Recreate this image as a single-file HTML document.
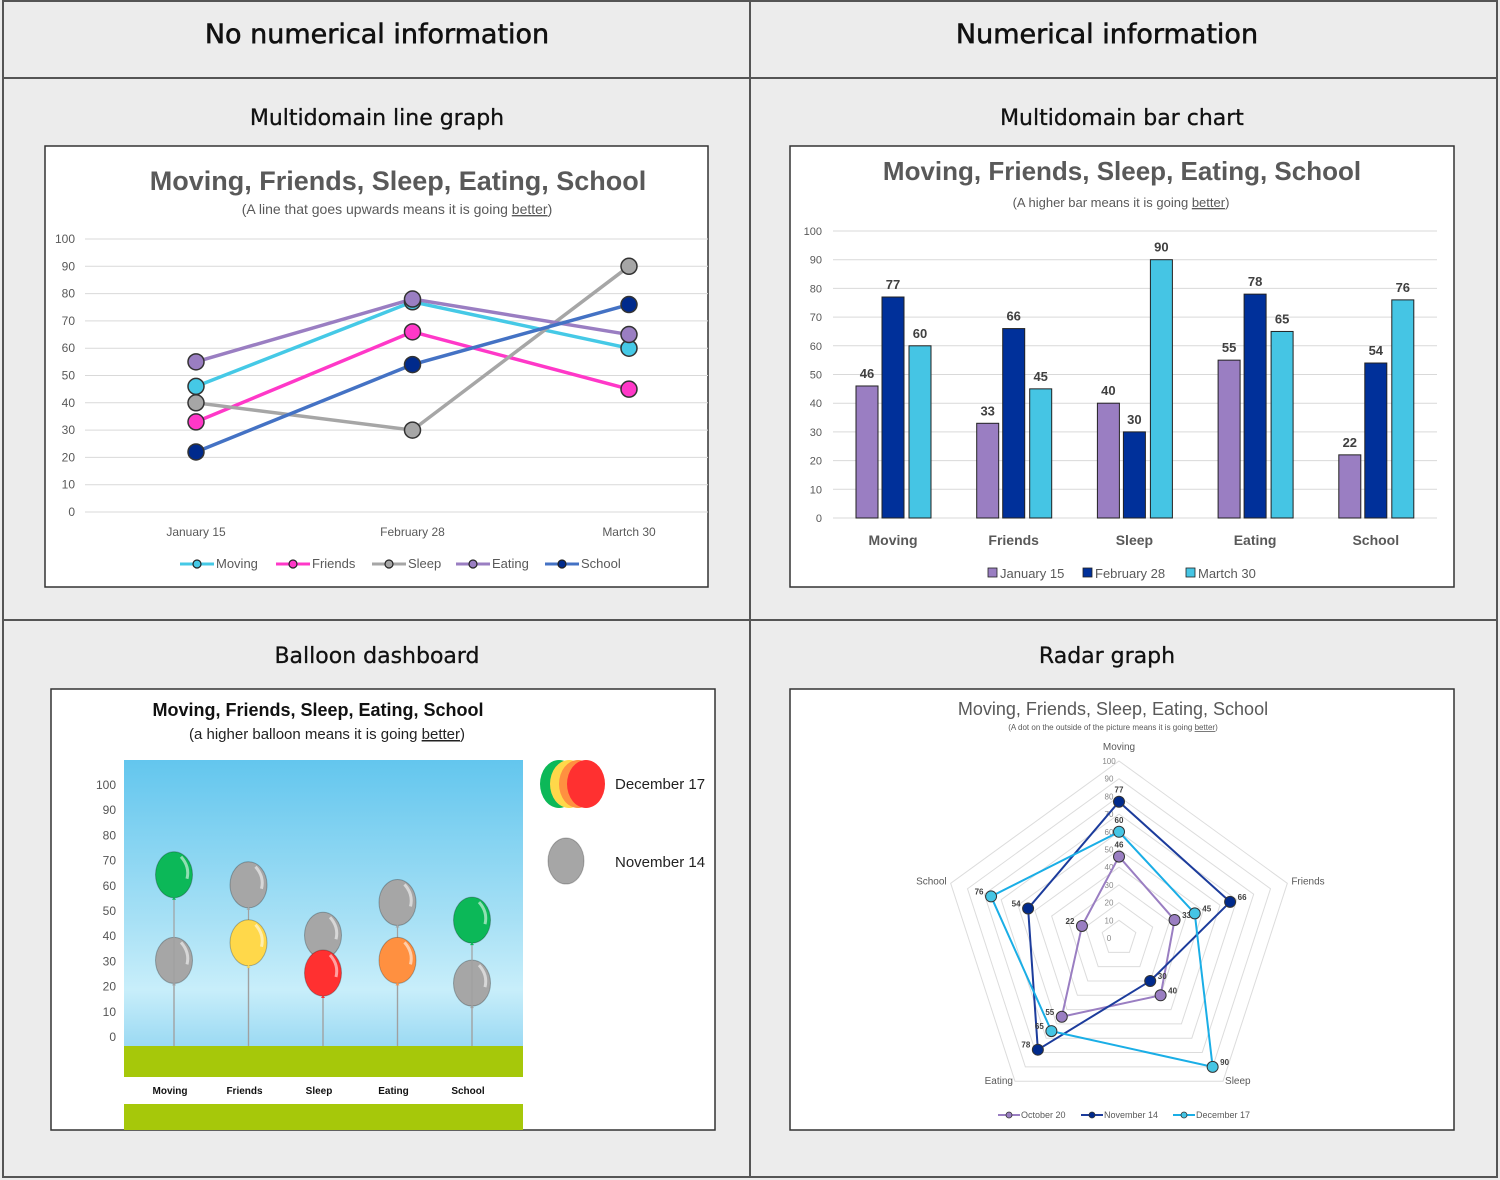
<!DOCTYPE html>
<html><head><meta charset="utf-8"><style>
html,body{margin:0;padding:0;background:#ececec;}
svg{display:block;font-family:"Liberation Sans",sans-serif;}
</style></head><body>
<svg id="s" width="1500" height="1180" viewBox="0 0 1500 1180" xmlns="http://www.w3.org/2000/svg">
<defs>
<linearGradient id="sky" x1="0" y1="0" x2="0" y2="1"><stop offset="0" stop-color="#63c6ee"/><stop offset="0.55" stop-color="#a6e0f5"/><stop offset="0.8" stop-color="#c8eefa"/><stop offset="1" stop-color="#9ad9f3"/></linearGradient>
</defs>
<rect x="0" y="0" width="1500" height="1180" fill="#ececec"/>
<g stroke="#555" stroke-width="2" fill="none">
<rect x="3" y="1" width="1494" height="1176"/>
<line x1="750" y1="1" x2="750" y2="1177"/>
<line x1="3" y1="78" x2="1497" y2="78"/>
<line x1="3" y1="620" x2="1497" y2="620"/>
</g>
<g font-family="DejaVu Sans, sans-serif" fill="#111" stroke="#111" stroke-width="0.6">
<text x="377" y="43" font-size="27" text-anchor="middle">No numerical information</text>
<text x="1107" y="43" font-size="27" text-anchor="middle">Numerical information</text>
</g>
<g font-family="DejaVu Sans, sans-serif" fill="#111" stroke="#111" stroke-width="0.3">
<text x="377" y="125" font-size="22" text-anchor="middle">Multidomain line graph</text>
<text x="1122" y="125" font-size="22" text-anchor="middle">Multidomain bar chart</text>
<text x="377" y="663" font-size="22" text-anchor="middle">Balloon dashboard</text>
<text x="1107" y="663" font-size="22" text-anchor="middle">Radar graph</text>
</g>

<g>
<rect x="45" y="146" width="663" height="441" fill="#fff" stroke="#333" stroke-width="1.5"/>
<text x="398" y="190" font-size="27" font-weight="bold" text-anchor="middle" fill="#595959">Moving, Friends, Sleep, Eating, School</text>
<text x="397" y="214" font-size="14" text-anchor="middle" fill="#595959">(A line that goes upwards means it is going <tspan text-decoration="underline">better</tspan>)</text>
<g id="lgrid"></g><g id="lmarks"></g><g id="llegend"></g>
</g>

<g>
<rect x="790" y="146" width="664" height="441" fill="#fff" stroke="#333" stroke-width="1.5"/>
<text x="1122" y="180" font-size="26" font-weight="bold" text-anchor="middle" fill="#595959">Moving, Friends, Sleep, Eating, School</text>
<text x="1121" y="207" font-size="13" text-anchor="middle" fill="#595959">(A higher bar means it is going <tspan text-decoration="underline">better</tspan>)</text>
<g id="bgrid"></g><g id="bmarks"></g><g id="blegend"></g>
</g>

<g>
<rect x="51" y="689" width="664" height="441" fill="#fff" stroke="#333" stroke-width="1.5"/>
<text x="318" y="716" font-size="18" font-weight="bold" text-anchor="middle" fill="#111">Moving, Friends, Sleep, Eating, School</text>
<text x="327" y="739" font-size="15" text-anchor="middle" fill="#222">(a higher balloon means it is going <tspan text-decoration="underline">better</tspan>)</text>
<rect x="124" y="760" width="399" height="287" fill="url(#sky)"/>
<rect x="124" y="1046" width="399" height="31" fill="#a6c80a"/>
<rect x="124" y="1104" width="399" height="26" fill="#a6c80a"/>
<g id="bygrid"></g><g id="balloons"></g>
<g id="blg"></g>
<text x="615" y="789" font-size="15" fill="#222">December 17</text>
<text x="615" y="867" font-size="15" fill="#222">November 14</text>
</g>

<g>
<rect x="790" y="689" width="664" height="441" fill="#fff" stroke="#333" stroke-width="1.5"/>
<text x="1113" y="715" font-size="18" text-anchor="middle" fill="#595959">Moving, Friends, Sleep, Eating, School</text>
<text x="1113" y="730" font-size="8" text-anchor="middle" fill="#595959">(A dot on the outside of the picture means it is going <tspan text-decoration="underline">better</tspan>)</text>
<g id="rgrid"></g><g id="rmarks"></g><g id="rlegend"></g>
</g>
</svg>
<script>
const domains = ["Moving","Friends","Sleep","Eating","School"];
const lineDates = ["January 15","February 28","Martch 30"];
const lineMoving = [46,77,60];
const lineFriends = [33,66,45];
const lineSleep = [40,30,90];
const lineEating = [55,78,65];
const lineSchool = [22,54,76];
const yTicks = [0,10,20,30,40,50,60,70,80,90,100];
const barSeriesNames = ["January 15","February 28","Martch 30"];
const barJan = [46,33,40,55,22];
const barFeb = [77,66,30,78,54];
const barMar = [60,45,90,65,76];
const balloonDec = [64,37,25,30,46];
const balloonNov = [30,60,40,53,21];
const radarNames = ["October 20","November 14","December 17"];
const radarOct = [46,33,40,55,22];
const radarNov = [77,66,30,78,54];
const radarDec = [60,45,90,65,76];

const NS="http://www.w3.org/2000/svg";
function mk(parent,tag,attrs,txt){const e=document.createElementNS(NS,tag);for(const k in attrs)e.setAttribute(k,attrs[k]);if(txt!==undefined)e.textContent=txt;document.getElementById(parent).appendChild(e);return e;}

const ly=v=>512-v*2.73;
const lx=i=>196+i*216.5;
yTicks.forEach(t=>{
  const g=mk('lgrid','line',{x1:85,x2:708,y1:ly(t),y2:ly(t),stroke:'#d9d9d9','stroke-width':1});
  
  
  const l=mk('lgrid','text',{x:75,y:ly(t)+4,'font-size':12,'text-anchor':'end',fill:'#595959'},t);
  
  
});
lineDates.forEach((d,i)=>{
  const l=mk('lgrid','text',{x:lx(i),y:536,'font-size':12,'text-anchor':'middle',fill:'#595959'},d);
  
  
});
const lineSeries=[["Moving",lineMoving,"#45c9e6","#45c9e6"],["Friends",lineFriends,"#ff38c8","#ff38c8"],["Sleep",lineSleep,"#a6a6a6","#a6a6a6"],["Eating",lineEating,"#9a7ec2","#9a7ec2"],["School",lineSchool,"#4472c4","#002a8c"]];
lineSeries.forEach(([n,vals,c,mc])=>{
  const p=mk('lmarks','polyline',{points:vals.map((v,i)=>lx(i)+','+ly(v)).join(' '),fill:'none',stroke:c,'stroke-width':3.5});
  
  
});
lineSeries.forEach(([n,vals,c,mc])=>{
  vals.forEach((v,i)=>{
    const m=mk('lmarks','circle',{cx:lx(i),cy:ly(v),r:8,fill:mc,stroke:'#333','stroke-width':1.5});
    
    
  });
});
const lgx=[180,276,372,456,545];
lineSeries.forEach(([n,vals,c,mc],i)=>{
  const x=lgx[i];
  const l=mk('llegend','line',{x1:x,x2:x+34,y1:564,y2:564,stroke:c,'stroke-width':3});
  
  
  const m=mk('llegend','circle',{cx:x+17,cy:564,r:4,fill:mc,stroke:'#222','stroke-width':1.2});
  
  
  const t=mk('llegend','text',{x:x+36,y:568,'font-size':13,fill:'#595959'},n);
  
  
});

const by=v=>518-v*2.87;
const bx=i=>893+i*120.7;
yTicks.forEach(t=>{
  const g=mk('bgrid','line',{x1:833,x2:1437,y1:by(t),y2:by(t),stroke:'#d9d9d9','stroke-width':1});
  
  
  const l=mk('bgrid','text',{x:822,y:by(t)+4,'font-size':11,'text-anchor':'end',fill:'#595959'},t);
  
  
});
domains.forEach((d,i)=>{
  const l=mk('bgrid','text',{x:bx(i),y:545,'font-size':14,'font-weight':'bold','text-anchor':'middle',fill:'#595959'},d);
  
  
});
const barSeries=[[barJan,"#9a7ec2",-26],[barFeb,"#00309a",0],[barMar,"#45c5e4",27]];
barSeries.forEach(([vals,c,off],si)=>{
  vals.forEach((v,i)=>{
    const x=bx(i)+off-11;
    const r=mk('bmarks','rect',{x:x,y:by(v),width:22,height:by(0)-by(v),fill:c,stroke:'#222','stroke-width':1});
    
    
    const t=mk('bmarks','text',{x:x+11,y:by(v)-8,'font-size':13,'font-weight':'bold','text-anchor':'middle',fill:'#404040'},v);
    
    
  });
});
const blgx=[988,1083,1186];
barSeries.forEach(([vals,c],i)=>{
  const r=mk('blegend','rect',{x:blgx[i],y:568,width:9,height:9,fill:c,stroke:'#222','stroke-width':0.8});
  
  
  const t=mk('blegend','text',{x:blgx[i]+12,y:578,'font-size':13,fill:'#595959'},barSeriesNames[i]);
  
  
});

const yy=v=>1036-v*2.52;
const bbx=i=>174+i*74.5;
yTicks.forEach(t=>{
  const l=mk('bygrid','text',{x:116,y:yy(t)+5,'font-size':12,'text-anchor':'end',fill:'#555'},t);
  
  
});
domains.forEach((d,i)=>{
  const l=mk('bygrid','text',{x:bbx(i)-4,y:1094,'font-size':10,'font-weight':'bold','text-anchor':'middle',fill:'#111'},d);
  
  
});
function balloon(parent,cx,cy,fill,name){
  const s=mk(parent,'line',{x1:cx,x2:cx,y1:cy+23,y2:1046,stroke:'#a0a0a0','stroke-width':1.2});
  
  
  const e=mk(parent,'ellipse',{cx:cx,cy:cy,rx:18.5,ry:23,fill:fill,stroke:'rgba(0,0,0,0.25)','stroke-width':1});
  
  
  const h=mk(parent,'path',{d:`M${cx+7} ${cy-18} Q${cx+16} ${cy-8} ${cx+13} ${cy+4}`,fill:'none',stroke:'rgba(255,255,255,0.55)','stroke-width':3});
  
  
  const k=mk(parent,'path',{d:`M${cx-2} ${cy+25} L${cx+2} ${cy+25} L${cx} ${cy+22}Z`,fill:fill});
  
  
}
const decColors=["#0cb858","#ffd84a","#ff3030","#ff9040","#0cb858"];
domains.forEach((d,i)=>{
  balloon('balloons',bbx(i),yy(balloonNov[i]),'#a6a6a6','balloon-nov-'+d.toLowerCase());
});
domains.forEach((d,i)=>{
  balloon('balloons',bbx(i),yy(balloonDec[i]),decColors[i],'balloon-dec-'+d.toLowerCase());
});
[["#0cb858",559],["#ffd84a",569],["#ff9040",578],["#ff3030",586]].forEach(([c,x])=>{
  const e=mk('blg','ellipse',{cx:x,cy:784,rx:19,ry:24,fill:c});
  
  
});
{const e=mk('blg','ellipse',{cx:566,cy:861,rx:18,ry:23,fill:'#a6a6a6',stroke:'rgba(0,0,0,0.25)'});

}

const RC=[1119,938], RR=1.77;
const rp=(i,v)=>{const a=i*2*Math.PI/5;return [RC[0]+v*RR*Math.sin(a),RC[1]-v*RR*Math.cos(a)];};
yTicks.slice(1).forEach(t=>{
  const p=mk('rgrid','polygon',{points:domains.map((d,i)=>rp(i,t).join(',')).join(' '),fill:'none',stroke:'#dcdcdc','stroke-width':1});
  
  
});
yTicks.forEach(t=>{
  const l=mk('rgrid','text',{x:RC[0]-10,y:RC[1]-t*RR+3,'font-size':8,'text-anchor':'middle',fill:'#888'},t);
  
  
});
const rlab=[[0,-14,'middle'],[4,-2,'start'],[2,0,'start'],[-2,0,'end'],[-4,-2,'end']];
domains.forEach((d,i)=>{
  const [x,y]=rp(i,100);
  const l=mk('rgrid','text',{x:x+rlab[i][0],y:y+rlab[i][1]+3,'font-size':10,'text-anchor':rlab[i][2],fill:'#595959'},d);
  
  
});
const radarSeries=[[radarOct,"#9a7ec2","#9a7ec2"],[radarNov,"#1c3c9c","#002a8c"],[radarDec,"#1aaee6","#45c5e4"]];
radarSeries.forEach(([vals,c,mc],si)=>{
  const pts=vals.map((v,i)=>rp(i,v));
  const p=mk('rmarks','polygon',{points:pts.map(q=>q.join(',')).join(' '),fill:'none',stroke:c,'stroke-width':2});
  
  
  pts.forEach((q,i)=>{
    const m=mk('rmarks','circle',{cx:q[0],cy:q[1],r:5.5,fill:mc,stroke:'#333','stroke-width':1});
    
    
    const t=mk('rmarks','text',{x:q[0]+(i==0?0:(i<3?12:-12)),y:q[1]+(i==0?-9:-2),'font-size':8,'font-weight':'bold','text-anchor':'middle',fill:'#404040'},vals[i]);
    
    
  });
});
const rlgx=[998,1081,1173];
radarSeries.forEach(([vals,c,mc],i)=>{
  const l=mk('rlegend','line',{x1:rlgx[i],x2:rlgx[i]+22,y1:1115,y2:1115,stroke:c,'stroke-width':2});
  
  
  const m=mk('rlegend','circle',{cx:rlgx[i]+11,cy:1115,r:3,fill:mc,stroke:'#333','stroke-width':0.8});
  
  
  const t=mk('rlegend','text',{x:rlgx[i]+23,y:1118,'font-size':9,fill:'#595959'},radarNames[i]);
  
  
});
</script>
</body></html>
